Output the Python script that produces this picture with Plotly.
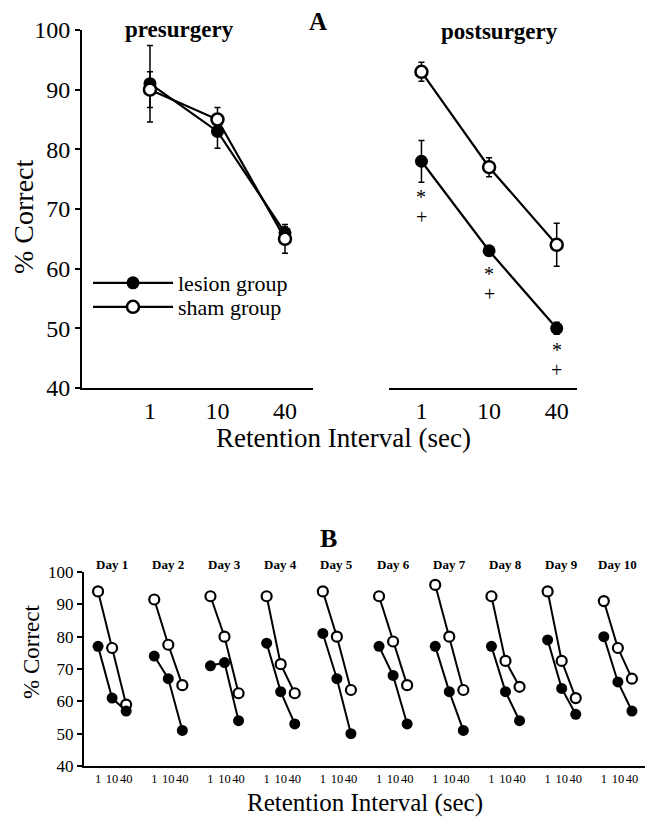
import plotly.graph_objects as go

# ---------------- data ----------------
intervals = ["1", "10", "40"]

pre_lesion = [91, 83, 66]
pre_lesion_err = [6.4, 2.8, 1.0]
pre_sham = [90, 85, 65]
pre_sham_err = [3.0, 2.0, 2.4]

post_lesion = [78, 63, 50]
post_lesion_err = [3.5, 0.7, 1.0]
post_sham = [93, 77, 64]
post_sham_err = [1.6, 1.6, 3.6]

post_marks = ["*", "+"]

days = ["Day 1", "Day 2", "Day 3", "Day 4", "Day 5",
        "Day 6", "Day 7", "Day 8", "Day 9", "Day 10"]
daily_lesion = [[77, 61, 57], [74, 67, 51], [71, 72, 54], [78, 63, 53], [81, 67, 50],
                [77, 68, 53], [77, 63, 51], [77, 63, 54], [79, 64, 56], [80, 66, 57]]
daily_sham = [[94, 76.5, 59], [91.5, 77.5, 65], [92.5, 80, 62.5], [92.5, 71.5, 62.5], [94, 80, 63.5],
              [92.5, 78.5, 65], [96, 80, 63.5], [92.5, 72.5, 64.5], [94, 72.5, 61], [91, 76.5, 67]]

yticks = [40, 50, 60, 70, 80, 90, 100]

# ---------------- style ----------------
FONT = "Liberation Serif, Times New Roman, serif"
W, H = 645, 820
BLACK = "black"


def px_x(p):
    return p / W


def px_y(p):
    return 1 - p / H


fig = go.Figure()

err_style = dict(type="data", color=BLACK, thickness=1.5, width=3)

# Panel A - presurgery
fig.add_trace(go.Scatter(
    x=intervals, y=pre_lesion, name="lesion group", mode="lines+markers",
    line=dict(color=BLACK, width=2.2),
    marker=dict(symbol="circle", size=13, color=BLACK, line=dict(width=0)),
    error_y=dict(array=pre_lesion_err, **err_style),
    xaxis="x", yaxis="y", legendgroup="lesion", showlegend=True, legend="legend"))
fig.add_trace(go.Scatter(
    x=intervals, y=pre_sham, name="sham group", mode="lines+markers",
    line=dict(color=BLACK, width=2.2),
    marker=dict(symbol="circle", size=12, color="white", line=dict(color=BLACK, width=2.5)),
    error_y=dict(array=pre_sham_err, **err_style),
    xaxis="x", yaxis="y", legendgroup="sham", showlegend=True, legend="legend2"))

# Panel A - postsurgery
fig.add_trace(go.Scatter(
    x=intervals, y=post_lesion, name="lesion group", mode="lines+markers",
    line=dict(color=BLACK, width=2.2),
    marker=dict(symbol="circle", size=13, color=BLACK, line=dict(width=0)),
    error_y=dict(array=post_lesion_err, **err_style),
    xaxis="x2", yaxis="y2", legendgroup="lesion", showlegend=False))
fig.add_trace(go.Scatter(
    x=intervals, y=post_sham, name="sham group", mode="lines+markers",
    line=dict(color=BLACK, width=2.2),
    marker=dict(symbol="circle", size=12, color="white", line=dict(color=BLACK, width=2.5)),
    error_y=dict(array=post_sham_err, **err_style),
    xaxis="x2", yaxis="y2", legendgroup="sham", showlegend=False))

# Panel B - daily
def daily_xy(vals):
    xs, ys = [], []
    for d, triple in enumerate(vals):
        for k, v in enumerate(triple):
            xs.append(4 * d + k)
            ys.append(v)
        xs.append(None)
        ys.append(None)
    return xs, ys


xl, yl = daily_xy(daily_lesion)
xs_, ys_ = daily_xy(daily_sham)
fig.add_trace(go.Scatter(
    x=xs_, y=ys_, mode="lines+markers", connectgaps=False,
    line=dict(color=BLACK, width=2),
    marker=dict(symbol="circle", size=10, color="white", line=dict(color=BLACK, width=2.2)),
    xaxis="x3", yaxis="y3", showlegend=False))
fig.add_trace(go.Scatter(
    x=xl, y=yl, mode="lines+markers", connectgaps=False,
    line=dict(color=BLACK, width=2),
    marker=dict(symbol="circle", size=11, color=BLACK, line=dict(width=0)),
    xaxis="x3", yaxis="y3", showlegend=False))

# tick positions for panel B
b_tickvals = [4 * d + k for d in range(len(days)) for k in range(len(intervals))]
b_ticktext = [intervals[k] for d in range(len(days)) for k in range(len(intervals))]

axis_common = dict(showgrid=False, zeroline=False, linecolor=BLACK, automargin=False)

legend_style = dict(xanchor="left", yanchor="middle",
                    font=dict(family=FONT, size=22, color=BLACK), bgcolor="rgba(0,0,0,0)",
                    itemwidth=80, tracegroupgap=0)

fig.update_layout(
    width=W, height=H,
    margin=dict(l=0, r=0, t=0, b=0, pad=0, autoexpand=False),
    paper_bgcolor="white", plot_bgcolor="white",
    font=dict(family=FONT, color=BLACK),
    xaxis=dict(domain=[px_x(82), px_x(313)], type="category", range=[-1.007, 2.415],
               showline=True, linewidth=2, ticks="", anchor="y",
               tickfont=dict(family=FONT, size=24, color=BLACK), **axis_common),
    yaxis=dict(domain=[px_y(388), px_y(30)], range=[40, 100], tickvals=yticks,
               showline=True, linewidth=2, ticks="outside", ticklen=5, tickwidth=2,
               tickcolor=BLACK, anchor="x",
               tickfont=dict(family=FONT, size=24, color=BLACK), **axis_common),
    xaxis2=dict(domain=[px_x(389), px_x(577)], type="category", range=[-0.48, 2.30],
                showline=True, linewidth=2, ticks="", anchor="y2",
                tickfont=dict(family=FONT, size=24, color=BLACK), **axis_common),
    yaxis2=dict(domain=[px_y(388), px_y(30)], range=[40, 100], visible=False, anchor="x2"),
    xaxis3=dict(domain=[px_x(84), 1.0], range=[-1.0, 38.93], tickvals=b_tickvals,
                ticktext=b_ticktext, showline=True, linewidth=2, ticks="", anchor="y3",
                tickangle=0,
                tickfont=dict(family=FONT, size=12.5, color=BLACK), **axis_common),
    yaxis3=dict(domain=[px_y(766), px_y(572)], range=[40, 100], tickvals=yticks,
                showline=True, linewidth=2, ticks="outside", ticklen=5, tickwidth=2,
                tickcolor=BLACK, anchor="x3",
                tickfont=dict(family=FONT, size=17, color=BLACK), **axis_common),
    legend=dict(x=px_x(88), y=px_y(283), **legend_style),
    legend2=dict(x=px_x(88), y=px_y(307), **legend_style),
)

ann = []


def text_ann(txt, x, y, size, bold=False, angle=0):
    ann.append(dict(text=f"<b>{txt}</b>" if bold else txt, x=px_x(x), y=px_y(y),
                    xref="paper", yref="paper", showarrow=False,
                    xanchor="center", yanchor="middle", textangle=angle,
                    font=dict(family=FONT, size=size, color=BLACK)))


text_ann("A", 318, 21, 25, bold=True)
text_ann("presurgery", 179, 29, 23, bold=True)
text_ann("postsurgery", 499, 31, 23, bold=True)
text_ann("% Correct", 23, 217, 28, angle=-90)
text_ann("Retention Interval (sec)", 343, 438, 27)
text_ann("B", 328, 538, 26, bold=True)
text_ann("% Correct", 31, 652, 23, angle=-90)
text_ann("Retention Interval (sec)", 365, 803, 25)

# significance marks under lesion points (postsurgery)
star_shift = [-36, -23, -22]
plus_shift = [-56, -43, -42]
for i in range(len(intervals)):
    for mark, sh in zip(post_marks, [star_shift[i], plus_shift[i]]):
        ann.append(dict(text=mark, x=i, y=post_lesion[i], xref="x2", yref="y2",
                        showarrow=False, yshift=sh, xanchor="center", yanchor="middle",
                        font=dict(family=FONT, size=20, color=BLACK)))

# day labels
for d, lab in enumerate(days):
    ann.append(dict(text=f"<b>{lab}</b>", x=4 * d + 1, y=px_y(564), xref="x3", yref="paper",
                    showarrow=False, xanchor="center", yanchor="middle",
                    font=dict(family=FONT, size=13, color=BLACK)))

fig.update_layout(annotations=ann)

fig.write_html("out.html")
